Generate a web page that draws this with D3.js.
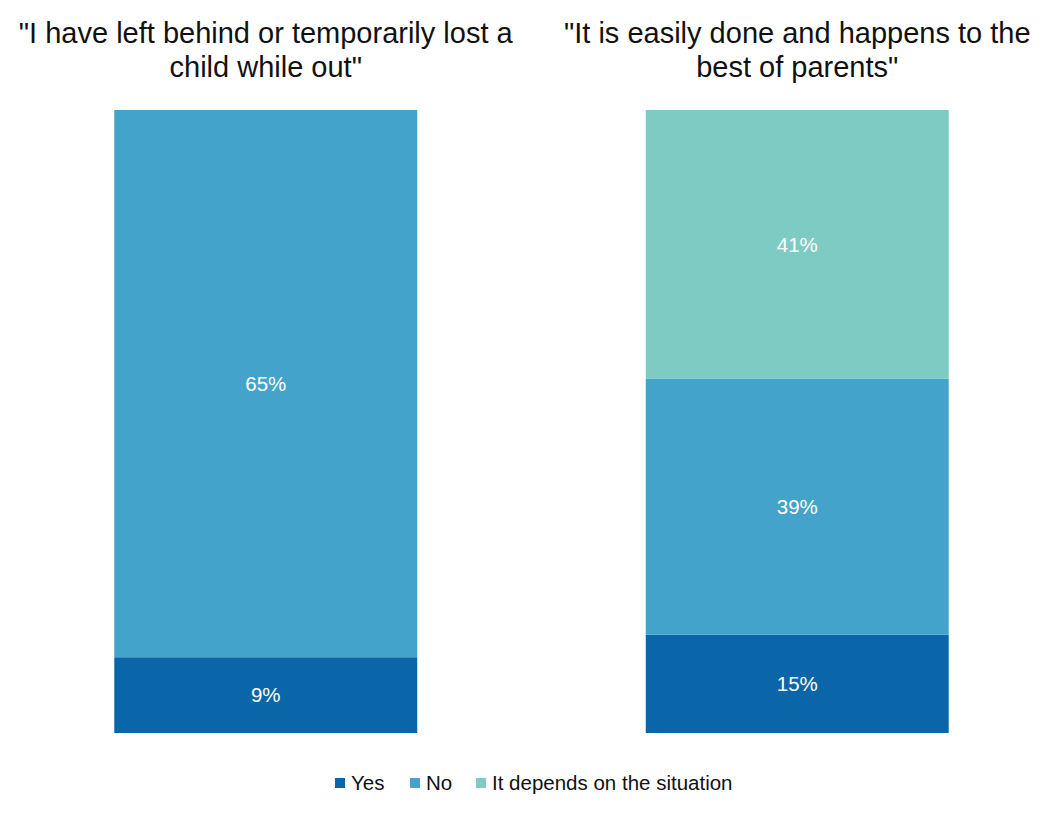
<!DOCTYPE html>
<html>
<head>
<meta charset="utf-8">
<script src="https://cdn.jsdelivr.net/npm/d3@7"></script>
<style>
  html, body { margin: 0; padding: 0; background: #ffffff; }
  svg { display: block; font-family: "Liberation Sans", Arial, sans-serif; }
</style>
</head>
<body>
<svg id="chart" width="1063" height="813"></svg>
<script>
// ---- data ----
const categories = ["q1", "q2"];
const titleLines = [
  ["\"I have left behind or temporarily lost a", "child while out\""],
  ["\"It is easily done and happens to the", "best of parents\""]
];
const seriesNames = ["Yes", "No", "It depends on the situation"];
const yesValues = [9, 15];
const noValues = [65, 39];
const dependsValues = [0, 41];
const seriesColors = ["#0a66a8", "#44a3cb", "#7ecbc4"];

// ---- build table ----
const keys = ["yes", "no", "depends"];
const table = categories.map((c, i) => ({
  cat: c, yes: yesValues[i], no: noValues[i], depends: dependsValues[i]
}));
const stacked = d3.stack().keys(keys).offset(d3.stackOffsetExpand)(table);

const svg = d3.select("#chart");
const W = 1063;

const x = d3.scaleBand().domain(categories).range([0, W]).paddingInner(0.43).paddingOuter(0.215);
const y = d3.scaleLinear().domain([0, 1]).range([733, 110]);
const color = d3.scaleOrdinal().domain(keys).range(seriesColors);

// bars
const layers = svg.append("g").selectAll("g").data(stacked).join("g")
  .attr("fill", d => color(d.key));

layers.selectAll("rect").data(d => d.map(p => ({p, key: d.key})))
  .join("rect")
  .attr("x", d => x(d.p.data.cat))
  .attr("width", x.bandwidth())
  .attr("y", d => y(d.p[1]))
  .attr("height", d => Math.max(0, y(d.p[0]) - y(d.p[1])));

// value labels
layers.selectAll("text").data(d => d.map(p => ({p, key: d.key})).filter(d => d.p.data[d.key] > 0))
  .join("text")
  .attr("x", d => x(d.p.data.cat) + x.bandwidth() / 2)
  .attr("y", d => (y(d.p[0]) + y(d.p[1])) / 2)
  .attr("dy", "0.35em")
  .attr("text-anchor", "middle")
  .attr("fill", "#ffffff")
  .attr("font-size", 20.5)
  .text(d => d.p.data[d.key] + "%");

// titles
categories.forEach((c, i) => {
  const t = svg.append("text")
    .attr("text-anchor", "middle")
    .attr("font-size", 29)
    .attr("fill", "#111111");
  titleLines[i].forEach((line, j) => {
    t.append("tspan")
      .attr("x", x(c) + x.bandwidth() / 2)
      .attr("y", 42.5 + j * 34.5)
      .text(line);
  });
});

// legend
const legendX = [335, 410, 476];
const lg = svg.append("g");
seriesNames.forEach((name, i) => {
  lg.append("rect")
    .attr("x", legendX[i]).attr("y", 778)
    .attr("width", 10).attr("height", 10)
    .attr("fill", seriesColors[i]);
  lg.append("text")
    .attr("x", legendX[i] + 16).attr("y", 783)
    .attr("dy", "0.35em")
    .attr("font-size", 20.5)
    .attr("fill", "#111111")
    .text(name);
});
</script>
</body>
</html>
